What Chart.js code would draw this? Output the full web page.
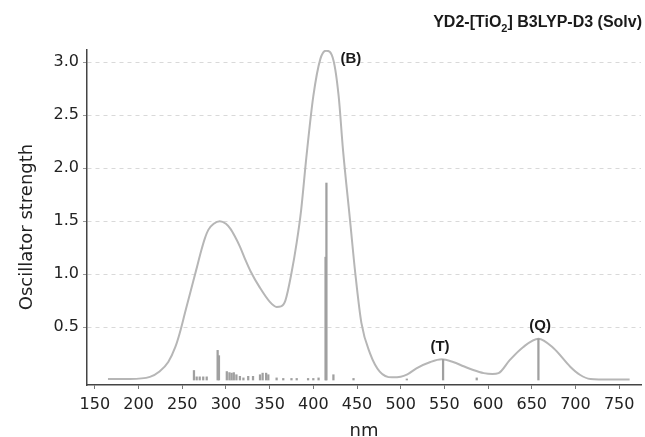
<!DOCTYPE html>
<html><head><meta charset="utf-8">
<script src="https://cdn.jsdelivr.net/npm/chart.js@4/dist/chart.umd.min.js"></script>
<style>html,body{margin:0;padding:0;background:#fff}#wrap{width:645px;height:437px;position:relative}</style>
</head><body><div id="wrap"><canvas id="c" width="645" height="437"></canvas></div>
<script>
// ---- data ----
const curveNm  = [165, 190, 213, 224, 234, 242, 247, 253, 259, 266, 272, 276, 280, 286, 293, 300, 305, 310, 316, 322, 328, 339, 350, 358, 363, 368, 375, 381, 386, 392, 400, 408, 414.5, 423, 429, 434, 442, 448, 455, 465, 476, 490, 500, 507, 518, 534, 547, 560, 572, 583, 595, 605, 612, 625, 640, 657.6, 675, 694, 705, 717, 740, 762];
const curveOsc = [0.01, 0.01, 0.03, 0.08, 0.17, 0.31, 0.44, 0.63, 0.82, 1.04, 1.23, 1.34, 1.42, 1.475, 1.50, 1.475, 1.43, 1.36, 1.26, 1.14, 1.03, 0.87, 0.74, 0.69, 0.695, 0.75, 1.01, 1.30, 1.60, 2.10, 2.68, 3.03, 3.11, 3.02, 2.68, 2.17, 1.51, 1.01, 0.54, 0.25, 0.08, 0.025, 0.03, 0.05, 0.11, 0.17, 0.195, 0.17, 0.13, 0.094, 0.065, 0.057, 0.065, 0.19, 0.31, 0.39, 0.30, 0.126, 0.05, 0.01, 0.005, 0.005];
const stickNm  = [263.4, 266.5, 270, 274, 278, 290.5, 292, 301, 304, 306.5, 309, 312, 316, 320, 325.5, 331, 339, 342, 346, 348.5, 358, 365.6, 375, 381, 394, 400, 406, 414, 415, 423, 446, 507, 548.5, 587, 657.6];
const stickOsc = [0.09, 0.03, 0.03, 0.03, 0.03, 0.28, 0.23, 0.08, 0.07, 0.065, 0.07, 0.05, 0.035, 0.02, 0.035, 0.035, 0.05, 0.065, 0.065, 0.05, 0.02, 0.015, 0.015, 0.015, 0.015, 0.015, 0.02, 1.16, 1.86, 0.05, 0.015, 0.01, 0.195, 0.02, 0.39];
const xTicks = [150, 200, 250, 300, 350, 400, 450, 500, 550, 600, 650, 700, 750];
const yTicks = [0.5, 1.0, 1.5, 2.0, 2.5, 3.0];
const peakLabels   = ['(B)', '(T)', '(Q)'];
const peakLabelNm  = [443, 545, 659.6];
const peakLabelOsc = [3.036, 0.314, 0.51];
const titleMain = 'YD2-[TiO';
const titleSub  = '2';
const titleTail = '] B3LYP-D3 (Solv)';
const xTitle = 'nm';
const yTitle = 'Oscillator strength';

const AXIS_FONT = "'DejaVu Sans', Verdana, sans-serif";
const BOLD_FONT = "'Liberation Sans', Arial, sans-serif";

const overlay = {
  id: 'overlay',
  afterDraw(chart) {
    const ctx = chart.ctx;
    const xs = chart.scales.x, ys = chart.scales.y;
    ctx.save();
    ctx.fillStyle = '#1a1a1a';
    // peak labels
    ctx.font = 'bold 15px ' + BOLD_FONT;
    ctx.textAlign = 'center';
    ctx.textBaseline = 'middle';
    peakLabels.forEach((t, i) => {
      ctx.fillText(t, xs.getPixelForValue(peakLabelNm[i]), ys.getPixelForValue(peakLabelOsc[i]));
    });
    // title with subscript, right-aligned
    const right = 642, base = 27;
    ctx.textBaseline = 'alphabetic';
    ctx.textAlign = 'left';
    ctx.font = 'bold 16px ' + BOLD_FONT;
    const wMain = ctx.measureText(titleMain).width;
    const wTail = ctx.measureText(titleTail).width;
    ctx.font = 'bold 11px ' + BOLD_FONT;
    const wSub = ctx.measureText(titleSub).width;
    let x0 = right - wTail - wSub - wMain;
    ctx.font = 'bold 16px ' + BOLD_FONT;
    ctx.fillText(titleMain, x0, base);
    ctx.font = 'bold 11px ' + BOLD_FONT;
    ctx.fillText(titleSub, x0 + wMain, base + 5);
    ctx.font = 'bold 16px ' + BOLD_FONT;
    ctx.fillText(titleTail, x0 + wMain + wSub, base);
    // y axis title
    ctx.fillStyle = '#222';
    ctx.font = '18px ' + AXIS_FONT;
    ctx.translate(27, 227);
    ctx.rotate(-Math.PI / 2);
    ctx.textAlign = 'center';
    ctx.textBaseline = 'middle';
    ctx.fillText(yTitle, 0, 0);
    ctx.restore();
  }
};

new Chart(document.getElementById('c'), {
  type: 'bar',
  data: {
    datasets: [
      {
        type: 'line',
        data: curveNm.map((x, i) => ({x, y: curveOsc[i]})),
        borderColor: '#b6b6b6',
        borderWidth: 2,
        pointRadius: 0,
        fill: false,
        cubicInterpolationMode: 'monotone',
        order: 2
      },
      {
        type: 'bar',
        data: stickNm.map((x, i) => ({x, y: stickOsc[i]})),
        backgroundColor: '#a0a0a0',
        borderWidth: 0,
        barThickness: 1.6,
        grouped: false,
        order: 1
      }
    ]
  },
  plugins: [overlay],
  options: {
    responsive: false,
    animation: false,
    devicePixelRatio: 1,
    layout: {padding: {top: 50, left: 0, right: 4, bottom: 0}},
    plugins: {legend: {display: false}, tooltip: {enabled: false}, title: {display: false}},
    scales: {
      x: {
        type: 'linear',
        min: 141, max: 775,
        offset: false,
        afterBuildTicks: s => { s.ticks = xTicks.map(v => ({value: v})); },
        afterFit: s => { s.height = 52; },
        grid: {display: true, drawOnChartArea: false, drawTicks: true, tickLength: 4, tickColor: '#777', offset: false},
        border: {display: true, color: '#444', width: 1.5},
        ticks: {autoSkip: false, maxRotation: 0, padding: 6, color: '#222', font: {family: AXIS_FONT, size: 16}, callback: v => String(v)},
        title: {display: true, text: xTitle, color: '#222', font: {family: AXIS_FONT, size: 18, lineHeight: 1}, padding: {top: 0, bottom: -3}}
      },
      y: {
        type: 'linear',
        min: -0.047, max: 3.116,
        afterBuildTicks: s => { s.ticks = yTicks.map(v => ({value: v})); },
        afterFit: s => { s.width = 87; },
        grid: {display: true, drawOnChartArea: true, color: '#d9d9d9', lineWidth: 1, drawTicks: true, tickLength: 4, tickColor: '#999', tickBorderDash: []},
        border: {display: true, color: '#444', width: 1.5, dash: [4, 4]},
        ticks: {padding: 4, color: '#222', font: {family: AXIS_FONT, size: 16}, callback: v => v.toFixed(1)},
        title: {display: false}
      }
    }
  }
});
</script>
</body></html>
